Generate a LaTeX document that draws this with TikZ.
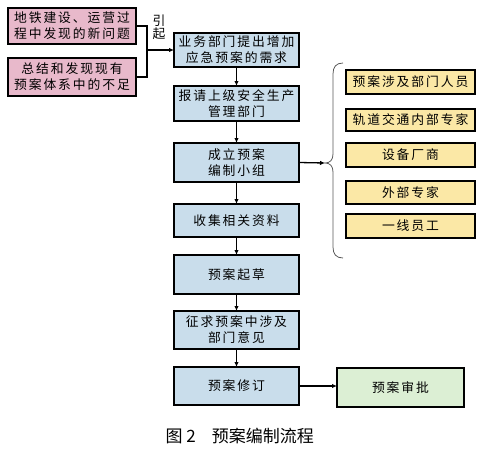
\documentclass[tikz,border=0pt]{standalone}
\usepackage{fontspec}
\setmainfont[LetterSpace=15]{Noto Sans CJK SC}
\usepackage{tikz}
\usetikzlibrary{positioning,arrows.meta,calc}

\definecolor{pinkbox}{HTML}{E8B9CB}
\definecolor{bluebox}{HTML}{C9DDEB}
\definecolor{yellowbox}{HTML}{FBE8A6}
\definecolor{greenbox}{HTML}{DCEFD4}

\begin{document}
\begin{tikzpicture}[x=1pt,y=-1pt,
  box/.style={draw,line width=1.6pt,inner sep=0pt,outer sep=0pt,align=center,
    font=\fontsize{12.8}{16}\selectfont,minimum width=#1},
  flow/.style={line width=1.3pt,-{Latex[length=5pt,width=4.5pt]}}]
  \useasboundingbox (0,0) rectangle (482,450);
  % sources
  \node[box=128,fill=pinkbox,minimum height=36] (p1) at (72,26){地铁建设、运营过\\程中发现的新问题};
  \node[box=128,fill=pinkbox,minimum height=38] (p2) at (72,77){总结和发现现有\\预案体系中的不足};
  \node[font=\fontsize{12.8}{13}\selectfont,align=center] (yq) at (159,27){引\\起};
  % main flow
  \node[box=125,fill=bluebox,minimum height=34] (b1) at (236.5,50){业务部门提出增加\\应急预案的需求};
  \node[box=125,fill=bluebox,minimum height=35] (b2) at (236.5,103.5){报请上级安全生产\\管理部门};
  \node[box=125,fill=bluebox,minimum height=39] (b3) at (236.5,162.5){成立预案\\编制小组};
  \node[box=125,fill=bluebox,minimum height=33] (b4) at (236.5,220.5){收集相关资料};
  \node[box=125,fill=bluebox,minimum height=39] (b5) at (236.5,274.5){预案起草};
  \node[box=125,fill=bluebox,minimum height=38] (b6) at (236.5,330){征求预案中涉及\\部门意见};
  \node[box=125,fill=bluebox,minimum height=38] (b7) at (236.5,386){预案修订};
  \node[box=127,fill=greenbox,minimum height=39] (sp) at (400.5,387.5){预案审批};
  % members of the group
  \node[box=129,fill=yellowbox,minimum height=24] (m1) at (410.5,82){预案涉及部门人员};
  \node[box=129,fill=yellowbox,minimum height=22] (m2) at (410.5,120){轨道交通内部专家};
  \node[box=129,fill=yellowbox,minimum height=24] (m3) at (410.5,155){设备厂商};
  \node[box=129,fill=yellowbox,minimum height=23] (m4) at (410.5,192.5){外部专家};
  \node[box=129,fill=yellowbox,minimum height=24] (m5) at (410.5,226){一线员工};
  \draw[black!65,line width=0.8pt] (343,63) .. controls (336,63) and (333,67) .. (333,74) -- (333,154)
    .. controls (333,160) and (330,163) .. (325,163) coordinate (tip)
    .. controls (330,163) and (333,166) .. (333,172) -- (333,247)
    .. controls (333,254) and (336,258) .. (343,258);
  % connectors
  \coordinate (j) at (147,50);
  \draw[line width=1.3pt] (p1.east) -| (j) |- (p2.east);
  \draw[flow,line width=2pt] (j) -- (b1.west);
  \foreach \a/\b in {b1/b2,b2/b3,b3/b4,b4/b5,b5/b6,b6/b7}
    \draw[flow] (\a) -- (\b);
  \draw[flow] (b3.east) -- (tip);
  \draw[flow] (b7.east) -- (b7.east -| sp.west);
  \node[right,font=\fontsize{17}{17}\selectfont\addfontfeature{LetterSpace=0}] (cap) at (162,436){图 2\hspace{16pt}预案编制流程};
\end{tikzpicture}
\end{document}
